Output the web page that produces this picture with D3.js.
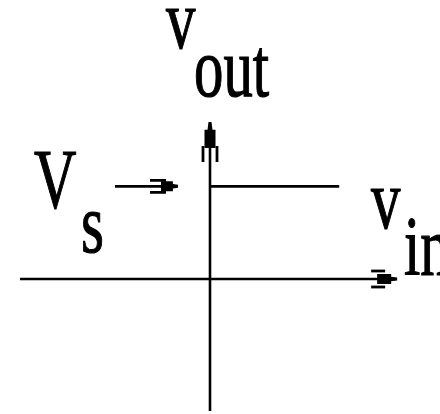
<!DOCTYPE html>
<html>
<head>
<meta charset="utf-8">
<script src="https://cdn.jsdelivr.net/npm/d3@7"></script>
<style>
  html, body { margin: 0; padding: 0; background: #fff; }
  svg { display: block; }
</style>
</head>
<body>
<svg id="chart" width="440" height="414"></svg>
<script>
// Transfer characteristic: v_out stays at V_s for v_in > 0
const vinAxis = [-1, 0.985];     // horizontal axis extent (v_in)
const voutAxis = [-0.84, 1];     // vertical axis extent (v_out)
const stepVin = [0, 0.68];       // output level segment, v_in range
const stepVout = [0.59, 0.59];   // output level V_s

const svg = d3.select("#chart");

const x = d3.scaleLinear().domain([-1, 1]).range([20, 400]);
const y = d3.scaleLinear().domain([0, 1]).range([279, 122]);

const ink = "#000";
const lw = 2.6;

// Axes
svg.append("line")
  .attr("x1", x(vinAxis[0])).attr("x2", x(vinAxis[1]) - 4)
  .attr("y1", y(0)).attr("y2", y(0))
  .attr("stroke", ink).attr("stroke-width", lw);
svg.append("line")
  .attr("x1", x(0)).attr("x2", x(0))
  .attr("y1", y(voutAxis[0])).attr("y2", y(voutAxis[1]) + 4)
  .attr("stroke", ink).attr("stroke-width", lw);

// Output level
svg.append("line")
  .attr("x1", x(stepVin[0])).attr("x2", x(stepVin[1]))
  .attr("y1", y(stepVout[0])).attr("y2", y(stepVout[1]))
  .attr("stroke", ink).attr("stroke-width", lw);

// Arrowhead drawn in local coords: u along the direction, w across it
function arrowHead(tx, ty, angleDeg, o) {
  const g = svg.append("g")
    .attr("transform", `translate(${tx},${ty}) rotate(${angleDeg})`);
  g.append("path")
    .attr("d", `M0,-1.5 L${-o.body * 0.3},${-o.half * 0.45} L${-o.body * 0.3},${-o.half}
                L${-o.body},${-o.half} L${-o.body},${o.half}
                L${-o.body * 0.3},${o.half} L${-o.body * 0.3},${o.half * 0.45} L0,1.5 Z`)
    .attr("fill", ink);
  [-1, 1].forEach(s => {
    g.append("line")
      .attr("x1", -o.barb0).attr("x2", -o.barb1)
      .attr("y1", s * o.spread).attr("y2", s * o.spread)
      .attr("stroke", ink).attr("stroke-width", 2.8);
  });
  return g;
}

// v_out axis arrow (pointing up)
arrowHead(x(0), y(voutAxis[1]), -90, { body: 26, half: 5.5, barb0: 24, barb1: 40, spread: 7 });
// v_in axis arrow (pointing right)
arrowHead(x(vinAxis[1]), y(0), 0, { body: 20, half: 5, barb0: 12, barb1: 26, spread: 8 });

// Pointer from the V_s label to the output level
const pointerTip = x(stepVin[0]) - 32;
svg.append("line")
  .attr("x1", 115).attr("x2", pointerTip - 4)
  .attr("y1", y(stepVout[0])).attr("y2", y(stepVout[0]))
  .attr("stroke", ink).attr("stroke-width", lw);
arrowHead(pointerTip, y(stepVout[0]), 0, { body: 17, half: 5, barb0: 12, barb1: 28, spread: 6 });

// Labels (condensed serif)
const fs = 84, sx = 0.7;
function label(str, lx, base) {
  svg.append("text")
    .attr("transform", `translate(${lx},${base}) scale(${sx},1)`)
    .attr("font-family", "'Liberation Serif', 'Times New Roman', 'DejaVu Serif', serif")
    .attr("font-size", fs)
    .attr("fill", ink)
    .attr("stroke", ink)
    .attr("stroke-width", 1.2)
    .text(str);
}
label("v", 166, 48);
label("out", 194, 96);
label("V", 34, 208);
label("s", 81, 252);
label("v", 371, 228);
label("in", 404, 275);
</script>
</body>
</html>
